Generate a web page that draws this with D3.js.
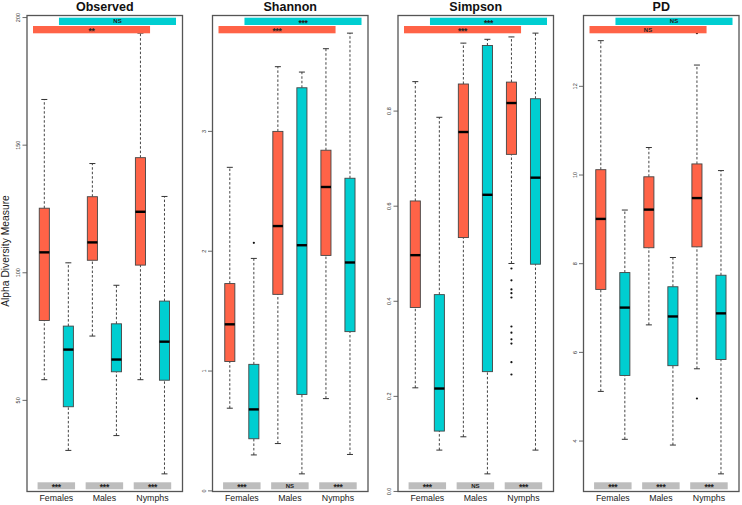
<!DOCTYPE html>
<html><head><meta charset="utf-8">
<script src="https://cdn.jsdelivr.net/npm/d3@7"></script>
<style>body{margin:0;background:#fff}</style>
</head><body><svg id="c" width="742" height="505"></svg>
<script>
// ---------------- DATA ----------------
const categories = ["Females", "Males", "Nymphs"];
const metrics = ["Observed", "Shannon", "Simpson", "PD"];
const series = ["A", "B"]; // red, teal
// box stats: [lower whisker, Q1, median, Q3, upper whisker]
// order: Females-A, Females-B, Males-A, Males-B, Nymphs-A, Nymphs-B
const observedStats = [
  [58.1, 81.3, 108.0, 125.3, 167.9],
  [30.4, 47.5, 69.9, 79.1, 103.9],
  [75.2, 104.9, 111.9, 129.8, 142.8],
  [36.2, 61.2, 66.0, 80.0, 95.1],
  [58.1, 103.0, 123.9, 145.1, 193.9],
  [21.2, 57.9, 73.0, 88.9, 129.9]
];
const shannonStats = [
  [0.69, 1.08, 1.39, 1.73, 2.70],
  [0.30, 0.435, 0.68, 1.056, 1.94],
  [0.395, 1.64, 2.21, 3.00, 3.54],
  [0.142, 0.805, 2.05, 3.364, 3.495],
  [0.77, 1.965, 2.536, 2.843, 3.69],
  [0.304, 1.329, 1.906, 2.609, 3.82]
];
const simpsonStats = [
  [0.218, 0.387, 0.497, 0.611, 0.862],
  [0.087, 0.127, 0.2165, 0.414, 0.787],
  [0.115, 0.534, 0.756, 0.857, 0.943],
  [0.037, 0.252, 0.624, 0.938, 0.951],
  [0.4795, 0.709, 0.817, 0.861, 0.956],
  [0.087, 0.478, 0.660, 0.826, 0.964]
];
const pdStats = [
  [5.12, 7.42, 9.01, 10.12, 13.03],
  [4.04, 5.48, 7.01, 7.80, 9.21],
  [6.62, 8.36, 9.22, 9.96, 10.62],
  [3.91, 5.70, 6.81, 7.48, 8.14],
  [5.63, 8.38, 9.48, 10.25, 12.48],
  [3.26, 5.84, 6.88, 7.74, 10.10]
];
const observedOutliers = [[], [], [], [], [], []];
const shannonOutliers = [[], [2.07], [], [], [], []];
const simpsonOutliers = [[], [], [], [], [0.469, 0.444, 0.425, 0.417, 0.408, 0.347, 0.334, 0.320, 0.311, 0.272, 0.246], []];
const pdOutliers = [[], [], [], [], [13.2, 4.96], []];

const observedTicks = [50, 100, 150, 200];
const shannonTicks = [0, 1, 2, 3];
const simpsonTicks = [0, 0.2, 0.4, 0.6, 0.8];
const pdTicks = [4, 6, 8, 10, 12];
const tickFormats = [d3.format("d"), d3.format("d"), d3.format(".1f"), d3.format("d")];

// top bar labels: series B (teal) across groups, series A (red) across groups
const topTealLabels = ["NS", "***", "***", "NS"];
const topRedLabels = ["**", "***", "***", "NS"];
// bottom within-category comparison labels
const observedBottom = ["***", "***", "***"];
const shannonBottom = ["***", "NS", "***"];
const simpsonBottom = ["***", "NS", "***"];
const pdBottom = ["***", "***", "***"];

const allStats = [observedStats, shannonStats, simpsonStats, pdStats];
const allOutliers = [observedOutliers, shannonOutliers, simpsonOutliers, pdOutliers];
const allTicks = [observedTicks, shannonTicks, simpsonTicks, pdTicks];
const allBottom = [observedBottom, shannonBottom, simpsonBottom, pdBottom];

// ---------------- STYLE / LAYOUT ----------------
const colors = {A: "#FF6347", B: "#00CED1"};
const panelLeft0 = 27, panelStep = 185.5, panelW = 155.5;
const panelTop = 15.5, panelBottom = 491.5;
const FONT = "'Liberation Sans', Arial, Helvetica, sans-serif";

const svg = d3.select("#c");

function sigLabel(g, cx, yTop, h, label) {
  const star = label.indexOf("*") >= 0;
  g.append("text").attr("x", cx).attr("y", yTop + h / 2 + (star ? 4.4 : 2.1))
    .attr("text-anchor", "middle")
    .style("font-family", FONT).style("font-size", star ? "8.5px" : "6px").style("font-weight", "bold")
    .style("letter-spacing", star ? "-0.3px" : "0px")
    .attr("fill", "#222").text(label);
}

// y-axis title
svg.append("text")
  .attr("transform", `translate(9,251) rotate(-90)`)
  .attr("text-anchor", "middle")
  .style("font-family", FONT).style("font-size", "10.3px").attr("fill", "#222")
  .text("Alpha Diversity Measure");

metrics.forEach((m, pi) => {
  const stats = allStats[pi], outs = allOutliers[pi];
  const left = panelLeft0 + pi * panelStep, right = left + panelW;
  const vals = stats.flat().concat(outs.flat());
  const lo = d3.min(vals), hi = d3.max(vals), ext = (hi - lo) * 0.04;
  const y = d3.scaleLinear().domain([lo - ext, hi + ext]).range([panelBottom, panelTop]);
  const x = d3.scaleLinear().domain([0.28, 6.75]).range([left, right]);
  const g = svg.append("g");

  // title
  g.append("text").attr("x", (left + right) / 2).attr("y", 11)
    .attr("text-anchor", "middle")
    .style("font-family", FONT).style("font-size", "12.5px").style("font-weight", "bold")
    .attr("fill", "#111").text(m);

  // y ticks
  const ticks = allTicks[pi];
  g.selectAll(".tk").data(ticks).enter().append("line")
    .attr("x1", left - 4.5).attr("x2", left)
    .attr("y1", d => y(d)).attr("y2", d => y(d))
    .attr("stroke", "#444").attr("stroke-width", 0.8);
  g.selectAll(".tl").data(ticks).enter().append("text")
    .attr("transform", d => `translate(${left - 7},${y(d)}) rotate(-90)`)
    .attr("text-anchor", "middle")
    .style("font-family", FONT).style("font-size", "5.5px").attr("fill", "#333")
    .text(d => tickFormats[pi](d));

  // boxes
  const bw = 0.21, cw = 0.125;
  stats.forEach((s, i) => {
    const pos = i + 1;
    const col = colors[series[i % 2]];
    const cx = x(pos);
    const [wl, q1, med, q3, wh] = s;
    [[wl, q1], [q3, wh]].forEach(([a, b]) => {
      g.append("line").attr("x1", cx).attr("x2", cx).attr("y1", y(a)).attr("y2", y(b))
        .attr("stroke", "#444").attr("stroke-width", 1).attr("stroke-dasharray", "2.5,2");
    });
    [wl, wh].forEach(v => {
      g.append("line").attr("x1", x(pos - cw)).attr("x2", x(pos + cw)).attr("y1", y(v)).attr("y2", y(v))
        .attr("stroke", "#333").attr("stroke-width", 1);
    });
    g.append("rect").attr("x", x(pos - bw)).attr("width", x(pos + bw) - x(pos - bw))
      .attr("y", y(q3)).attr("height", y(q1) - y(q3))
      .attr("fill", col).attr("stroke", "#444").attr("stroke-width", 0.9);
    g.append("line").attr("x1", x(pos - bw)).attr("x2", x(pos + bw)).attr("y1", y(med)).attr("y2", y(med))
      .attr("stroke", "#000").attr("stroke-width", 2.4);
    outs[i].forEach(v => {
      g.append("circle").attr("cx", cx).attr("cy", y(v)).attr("r", 1.1).attr("fill", "#111");
    });
  });

  // top bars
  const barH = 7.3;
  const bars = [
    {x0: 2 - 0.39, x1: 6 + 0.48, y0: panelTop + 2.2, col: colors.B, label: topTealLabels[pi]},
    {x0: 1 - 0.47, x1: 5 + 0.40, y0: panelTop + 10.5, col: colors.A, label: topRedLabels[pi]}
  ];
  bars.forEach(b => {
    g.append("rect").attr("x", x(b.x0)).attr("width", x(b.x1) - x(b.x0))
      .attr("y", b.y0).attr("height", barH).attr("fill", b.col);
    sigLabel(g, (x(b.x0) + x(b.x1)) / 2, b.y0, barH, b.label);
  });

  // bottom grey boxes + category labels
  categories.forEach((c, ci) => {
    const cpos = 1.5 + ci * 2;
    const gy0 = panelBottom - 9.2;
    g.append("rect").attr("x", x(cpos - 0.78)).attr("width", x(cpos + 0.78) - x(cpos - 0.78))
      .attr("y", gy0).attr("height", 7).attr("fill", "#bdbdbd");
    sigLabel(g, x(cpos), gy0, 7, allBottom[pi][ci]);
    g.append("text").attr("x", x(cpos)).attr("y", 500.5)
      .attr("text-anchor", "middle")
      .style("font-family", FONT).style("font-size", "8.8px").attr("fill", "#222").text(c);
  });

  // frame
  g.append("rect").attr("x", left).attr("y", panelTop).attr("width", panelW).attr("height", panelBottom - panelTop)
    .attr("fill", "none").attr("stroke", "#555").attr("stroke-width", 1.3);
});
</script></body></html>
